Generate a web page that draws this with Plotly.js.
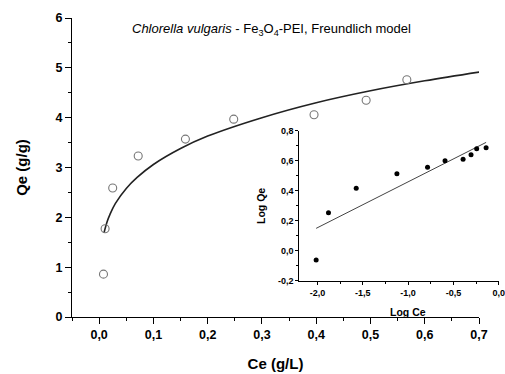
<!DOCTYPE html>
<html>
<head>
<meta charset="utf-8">
<script src="https://cdn.plot.ly/plotly-3.0.1.min.js"></script>
<style>
  html, body { margin: 0; padding: 0; background: #fff; }
  #chart { width: 505px; height: 374px; }
</style>
</head>
<body>
<div id="chart"></div>
<script>
// Equilibrium data: Ce (g/L) vs Qe (g/g)
const ceData = [0.008, 0.011, 0.025, 0.072, 0.159, 0.248, 0.396, 0.492, 0.567];
const qeData = [0.86, 1.77, 2.59, 3.23, 3.57, 3.97, 4.06, 4.35, 4.76];

// Freundlich model curve, sampled along Ce
const curveCe = [0.009, 0.015, 0.02, 0.03, 0.05, 0.07, 0.1, 0.15, 0.2, 0.3, 0.4, 0.5, 0.6, 0.703];
const curveQe = [1.69, 1.92, 2.06, 2.28, 2.58, 2.80, 3.06, 3.38, 3.63, 4.00, 4.30, 4.54, 4.74, 4.92];

// Linearised form: log Ce vs log Qe
const logCe = [-2.014, -1.878, -1.572, -1.123, -0.785, -0.592, -0.393, -0.305, -0.243, -0.139];
const logQe = [-0.062, 0.253, 0.416, 0.513, 0.556, 0.600, 0.609, 0.640, 0.680, 0.687];

// Linear fit endpoints
const fitLogCe = [-2.014, -0.139];
const fitLogQe = [0.149, 0.722];

// Inset tick labels (comma decimals, plain hyphen for negatives)
const insetXTicks = [-2.0, -1.5, -1.0, -0.5, 0.0];
const insetXLabels = ['-2,0', '-1,5', '-1,0', '-0,5', '0,0'];
const insetYTicks = [-0.2, 0.0, 0.2, 0.4, 0.6, 0.8];
const insetYLabels = ['-0,2', '0,0', '0,2', '0,4', '0,6', '0,8'];

const FONT = 'Liberation Sans, Arial, sans-serif';

const traces = [
  {
    x: curveCe, y: curveQe, type: 'scatter', mode: 'lines',
    line: { color: '#222', width: 1.6, shape: 'spline' },
    xaxis: 'x', yaxis: 'y', hoverinfo: 'skip'
  },
  {
    x: ceData, y: qeData, type: 'scatter', mode: 'markers',
    marker: { symbol: 'circle-open', size: 8, color: '#777', line: { width: 1.1, color: '#777' } },
    xaxis: 'x', yaxis: 'y'
  },
  {
    x: fitLogCe, y: fitLogQe, type: 'scatter', mode: 'lines',
    line: { color: '#444', width: 1 },
    xaxis: 'x2', yaxis: 'y2', hoverinfo: 'skip'
  },
  {
    x: logCe, y: logQe, type: 'scatter', mode: 'markers',
    marker: { symbol: 'circle', size: 5, color: '#000' },
    xaxis: 'x2', yaxis: 'y2'
  }
];

const axisCommon = {
  showgrid: false, zeroline: false, showline: true,
  linecolor: '#000', linewidth: 1, ticks: 'outside',
  tickcolor: '#000', tickwidth: 1, mirror: false
};

const layout = {
  width: 505, height: 374,
  margin: { l: 72, r: 6, t: 18, b: 57, pad: 0 },
  paper_bgcolor: '#fff', plot_bgcolor: 'rgba(0,0,0,0)',
  showlegend: false,
  separators: ',.',
  font: { family: FONT, color: '#000' },
  xaxis: Object.assign({}, axisCommon, {
    domain: [0, 0.9532], range: [-0.05, 0.7],
    dtick: 0.1, tick0: 0, tickformat: '.1f', ticklen: 6,
    minor: { dtick: 0.05, ticklen: 3, ticks: 'outside', tickcolor: '#000' },
    tickfont: { size: 12.5, family: FONT, weight: 'bold' },
    title: { text: '<b>Ce (g/L)</b>', font: { size: 15, family: FONT }, standoff: 17 },
    anchor: 'y'
  }),
  yaxis: Object.assign({}, axisCommon, {
    domain: [0, 1], range: [0, 6],
    dtick: 1, ticklen: 6,
    minor: { dtick: 0.5, ticklen: 3, ticks: 'outside', tickcolor: '#000' },
    tickfont: { size: 12.5, family: FONT, weight: 'bold' },
    title: { text: '<b>Qe (g/g)</b>', font: { size: 15, family: FONT }, standoff: 24 },
    anchor: 'x'
  }),
  xaxis2: Object.assign({}, axisCommon, {
    domain: [0.5323, 0.9993], range: [-2.2, 0],
    tickmode: 'array', tickvals: insetXTicks, ticktext: insetXLabels, ticklen: 3,
    minor: { dtick: 0.25, tick0: 0, ticklen: 2, ticks: 'outside', tickcolor: '#000' },
    tickfont: { size: 9, family: FONT, weight: 'bold' },
    anchor: 'y2'
  }),
  yaxis2: Object.assign({}, axisCommon, {
    domain: [0.1214, 0.6231], range: [-0.2, 0.8],
    tickmode: 'array', tickvals: insetYTicks, ticktext: insetYLabels, ticklen: 3,
    minor: { dtick: 0.1, tick0: 0, ticklen: 2, ticks: 'outside', tickcolor: '#000' },
    tickfont: { size: 9, family: FONT, weight: 'bold' },
    anchor: 'x2'
  }),
  annotations: [
    {
      text: '<i>Chlorella vulgaris</i> - Fe<sub>3</sub>O<sub>4</sub>-PEI, Freundlich model',
      xref: 'paper', yref: 'paper', x: 0.467, y: 0.96,
      xanchor: 'center', yanchor: 'middle', showarrow: false,
      font: { size: 13, family: FONT, color: '#000' }
    },
    {
      text: '<b>Log Ce</b>', xref: 'paper', yref: 'paper',
      x: (408 - 72) / 427, y: (317 - 311.7) / 299,
      xanchor: 'center', yanchor: 'middle', showarrow: false,
      font: { size: 10.5, family: FONT, color: '#000' }
    },
    {
      text: '<b>Log Qe</b>', xref: 'paper', yref: 'paper',
      x: (261 - 72) / 427, y: (317 - 206) / 299,
      xanchor: 'center', yanchor: 'middle', showarrow: false, textangle: -90,
      font: { size: 10.5, family: FONT, color: '#000' }
    }
  ]
};

Plotly.newPlot('chart', traces, layout, { staticPlot: true, displayModeBar: false });
</script>
</body>
</html>
